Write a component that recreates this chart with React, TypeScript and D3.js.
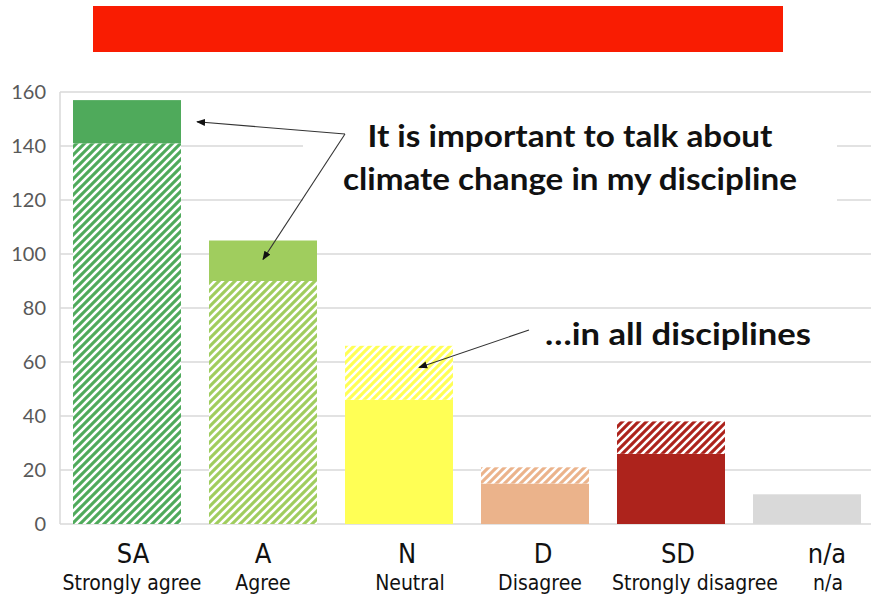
import React from "react";
import * as d3 from "d3";

const categories = ["SA", "A", "N", "D", "SD", "n/a"];
const fullLabels = ["Strongly agree", "Agree", "Neutral", "Disagree", "Strongly disagree", "n/a"];
const myDiscipline = [157, 105, 46, 15, 26, 11];
const allDisciplines = [141, 90, 66, 21, 38, 11];
const barColors = ["#4FAA5B", "#A0CD5E", "#FFFF55", "#EBB38B", "#AD231C", "#D9D9D9"];
const yTicks = [0, 20, 40, 60, 80, 100, 120, 140, 160];
const annotation1 = ["It is important to talk about", "climate change in my discipline"];
const annotation2 = "\u2026in all disciplines";

// layout-only label nudges (px)
const codeOffsets = [6, 0, 8, 8, 7, 20];
const nameOffsets = [5, 0, 11, 5, 24, 21];

const W = 871;
const H = 596;

export default function App() {
  const x = d3
    .scaleBand<string>()
    .domain(categories)
    .range([59, 875])
    .paddingInner(0.206)
    .paddingOuter(0.103);
  const y = d3.scaleLinear().domain([0, 160]).range([524, 92]);
  const bw = x.bandwidth();

  const bars: React.ReactNode[] = [];
  categories.forEach((c, i) => {
    const my = myDiscipline[i];
    const all = allDisciplines[i];
    const lo = Math.min(my, all);
    const hi = Math.max(my, all);
    const loHatched = all < my;
    const hiHatched = all > my;
    const x0 = x(c) as number;
    const solid = barColors[i];
    const hatch = `url(#hatch${i})`;
    bars.push(
      <rect key={c + "lo"} x={x0} y={y(lo)} width={bw} height={y(0) - y(lo)} fill={loHatched ? hatch : solid} />
    );
    if (hi > lo) {
      bars.push(
        <rect key={c + "hi"} x={x0} y={y(hi)} width={bw} height={y(lo) - y(hi)} fill={hiHatched ? hatch : solid} />
      );
    }
  });

  const labelFont = "'Liberation Sans Narrow', 'DejaVu Sans Condensed', Arial, sans-serif";
  const annFont = "Lato, 'Open Sans', sans-serif";

  const saRight = (x("SA") as number) + bw;
  const aCenter = (x("A") as number) + bw / 2;
  const nCenter = (x("N") as number) + bw / 2;
  const arrowStart1 = { x: 345, y: 134 };
  const arrowStart2 = { x: 529, y: 330 };
  const tips = [
    { x1: arrowStart1.x, y1: arrowStart1.y, x2: saRight + 16, y2: y(149) },
    { x1: arrowStart1.x, y1: arrowStart1.y, x2: aCenter, y2: y(98) },
    { x1: arrowStart2.x, y1: arrowStart2.y, x2: nCenter + 20, y2: y(58) },
  ];

  return (
    <svg
      width={W}
      height={H}
      viewBox={`0 0 ${W} ${H}`}
      style={{ position: "absolute", left: 0, top: 0, background: "#fff" }}
    >
      <defs>
        {barColors.map((col, i) => (
          <pattern key={i} id={`hatch${i}`} patternUnits="userSpaceOnUse" width={8} height={8}>
            <rect width={8} height={8} fill={col} />
            <path d="M-2,2 L2,-2 M0,8 L8,0 M6,10 L10,6" stroke="#fff" strokeWidth={2.6} />
          </pattern>
        ))}
        <marker id="arrow" viewBox="0 0 10 10" refX={9} refY={5} markerWidth={9} markerHeight={9} orient="auto" markerUnits="userSpaceOnUse">
          <path d="M0,1 L10,5 L0,9 Z" fill="#111" />
        </marker>
      </defs>

      <rect x={0} y={0} width={W} height={H} fill="#fff" />

      <rect x={93} y={6} width={690} height={46} fill="#F91C02" />

      {yTicks.map((t) => (
        <line key={t} x1={60} x2={W} y1={y(t)} y2={y(t)} stroke="#D9D9D9" strokeWidth={1.5} />
      ))}
      <line x1={60} x2={60} y1={y(160)} y2={y(0)} stroke="#D9D9D9" strokeWidth={1.5} />

      <rect x={303} y={110} width={534} height={110} fill="#fff" />

      {yTicks.map((t) => (
        <text
          key={"l" + t}
          x={46}
          y={y(t)}
          dy="0.36em"
          textAnchor="end"
          fontFamily="Lato, 'Open Sans', sans-serif"
          fontSize={20}
          fill="#595959"
        >
          {t}
        </text>
      ))}

      {bars}

      {categories.map((c, i) => (
        <text
          key={"c" + c}
          x={(x(c) as number) + bw / 2 + codeOffsets[i]}
          y={563}
          textAnchor="middle"
          fontFamily={labelFont}
          fontSize={27}
          fill="#111"
        >
          {c}
        </text>
      ))}
      {fullLabels.map((c, i) => (
        <text
          key={"f" + i}
          x={(x(categories[i]) as number) + bw / 2 + nameOffsets[i]}
          y={590}
          textAnchor="middle"
          fontFamily={labelFont}
          fontSize={21}
          fill="#111"
        >
          {c}
        </text>
      ))}

      {tips.map((a, i) => (
        <line key={"a" + i} x1={a.x1} y1={a.y1} x2={a.x2} y2={a.y2} stroke="#333" strokeWidth={1.1} markerEnd="url(#arrow)" />
      ))}

      <text x={570} y={147} textAnchor="middle" fontFamily={annFont} fontWeight={700} fontSize={30} fill="#111" textLength={405} lengthAdjust="spacingAndGlyphs">
        {annotation1[0]}
      </text>
      <text x={570} y={190} textAnchor="middle" fontFamily={annFont} fontWeight={700} fontSize={30} fill="#111" textLength={454} lengthAdjust="spacingAndGlyphs">
        {annotation1[1]}
      </text>
      <text x={678} y={345} textAnchor="middle" fontFamily={annFont} fontWeight={700} fontSize={30} fill="#111" textLength={266} lengthAdjust="spacingAndGlyphs">
        {annotation2}
      </text>
    </svg>
  );
}
